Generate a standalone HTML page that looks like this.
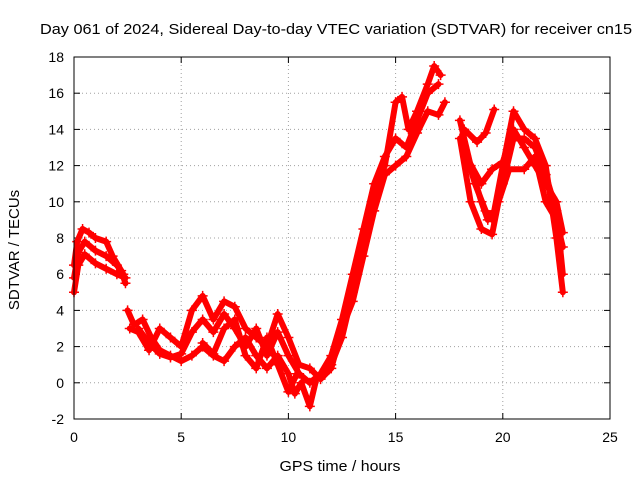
<!DOCTYPE html>
<html><head><meta charset="utf-8"><style>
body{margin:0;background:#fff}
svg{display:block;font-family:"Liberation Sans",sans-serif;font-size:14px}
</style></head><body>
<svg id="chart" width="640" height="480">
<text x="336" y="34" font-size="15" text-anchor="middle" textLength="592" lengthAdjust="spacingAndGlyphs">Day 061 of 2024, Sidereal Day-to-day VTEC variation (SDTVAR) for receiver cn15</text>
<text transform="translate(19,250) rotate(-90)" font-size="15" text-anchor="middle">SDTVAR / TECUs</text>
<text x="340" y="471" font-size="15" text-anchor="middle" textLength="121" lengthAdjust="spacingAndGlyphs">GPS time / hours</text>
<g id="grid"></g><g id="ticks"></g><g id="marks"></g>
<rect x="74" y="57" width="536" height="362" fill="none" stroke="#000"/>
</svg>
<script>
const xTicks=[0,5,10,15,20,25];
const yTicks=[-2,0,2,4,6,8,10,12,14,16,18];
const trackA=[[0,6.5],[0.15,7.8],[0.4,8.5],[0.7,8.3],[1,8],[1.5,7.8],[1.8,7],[2.2,6.2],[2.4,5.5]];
const trackB=[[0,5],[0.2,6.5],[0.5,7.1],[1,6.6],[1.5,6.3],[2,6],[2.4,5.8]];
const trackB2=[[0,5.8],[0.2,7.2],[0.5,7.8],[1,7.3],[1.5,7],[2,6.5],[2.3,6]];
const trackC=[[2.5,4],[2.8,3.2],[3.2,3.5],[3.6,2.5],[4,1.8],[4.5,1.5],[5,1.2],[5.5,1.5],[6,2],[6.5,1.5],[7,1.2],[7.5,2],[8,2.5],[8.5,1.5],[9,0.8],[9.5,1.5],[10,0.5],[10.3,-0.6],[10.6,0],[11,-1.3],[11.3,0.2],[11.7,0.5],[12,1],[12.5,2.5],[13,5],[13.5,7.5],[14,10.5],[14.5,12],[15,15.5],[15.3,15.8],[15.6,14],[16,15],[16.5,16.5],[16.8,17.5],[17.1,17]];
const trackD=[[2.6,3],[3,2.8],[3.5,1.8],[4,3],[4.5,2.5],[5,2],[5.5,4],[6,4.8],[6.5,3.5],[7,4.5],[7.5,4.2],[8,3],[8.5,2.5],[9,2],[9.5,3.8],[10,2.5],[10.5,1],[11,0.8],[11.5,0.2],[12,0.8],[12.5,3],[13,4.5],[13.5,7],[14,9.5],[14.5,11.5],[15,12],[15.5,12.5],[16,13.8],[16.5,15],[17,14.8],[17.3,15.5]];
const trackD2=[[3,3],[3.5,2.2],[4,1.6],[4.5,1.4],[5,1.6],[5.5,2.8],[6,3.5],[6.5,2.8],[7,3.8],[7.5,3],[8,2],[8.5,3],[9,1.5],[9.5,2.8],[10,1.5],[10.5,0.5],[11,0],[11.5,0.5],[12,1.5],[12.5,3.5],[13,6],[13.5,8.5],[14,11],[14.5,12.5],[15,13.5],[15.5,13],[16,14.5],[16.5,16],[17,16.5]];
const trackE=[[6,2.2],[6.5,1.6],[7,3],[7.5,3.5],[8,1.5],[8.5,0.8],[9,2.5],[9.5,1],[10,-0.5],[10.4,0.5]];
const trackF=[[18,14.5],[18.5,12],[19,10],[19.3,9],[19.6,9.5],[20,12],[20.5,15],[21,14],[21.5,13.5],[22,12],[22.5,8],[22.8,5]];
const trackG=[[18,13.5],[18.5,10],[19,8.5],[19.5,8.2],[19.8,10],[20.3,11.8],[21,11.8],[21.5,12.5],[22,10],[22.5,9],[22.8,7.5]];
const trackH=[[18.2,14],[18.8,13.3],[19.2,13.8],[19.6,15.1]];
const trackI=[[18.3,12.5],[19,11],[19.5,11.8],[20,12.2],[20.5,14],[21,13],[21.5,12],[22,11],[22.5,10],[22.8,8.3]];
const trackJ=[[18.2,13],[18.7,11],[19.2,9.5],[19.5,9],[20,11],[20.5,13.5],[21,13.5],[21.5,13],[22,11.5],[22.5,9.5],[22.8,6]];
const tracks=[trackA,trackB,trackB2,trackC,trackD,trackD2,trackE,trackF,trackG,trackH,trackI,trackJ];
const NS='http://www.w3.org/2000/svg';
const X=t=>74+t*536/25, Y=v=>419-(v+2)*362/20;
function mk(tag,at,parent){const e=document.createElementNS(NS,tag);for(const k in at)e.setAttribute(k,at[k]);parent.appendChild(e);return e;}
const grid=document.getElementById('grid'),ticks=document.getElementById('ticks'),marks=document.getElementById('marks');
xTicks.forEach(t=>{const x=X(t);
 if(t>0&&t<25){const l=mk('line',{x1:x,x2:x,y1:57,y2:419,stroke:'#a0a0a0','stroke-dasharray':'1,3'},grid);}
 mk('line',{x1:x,x2:x,y1:419,y2:413,stroke:'#000'},ticks);mk('line',{x1:x,x2:x,y1:57,y2:63,stroke:'#000'},ticks);
 const tx=mk('text',{x:x,y:442,'text-anchor':'middle'},ticks);tx.textContent=t;
 });
yTicks.forEach(v=>{const y=Y(v);
 if(v>-2&&v<18){const l=mk('line',{x1:74,x2:610,y1:y,y2:y,stroke:'#a0a0a0','stroke-dasharray':'1,3'},grid);}
 mk('line',{x1:74,x2:80,y1:y,y2:y,stroke:'#000'},ticks);mk('line',{x1:604,x2:610,y1:y,y2:y,stroke:'#000'},ticks);
 const tx=mk('text',{x:64,y:y+5,'text-anchor':'end'},ticks);tx.textContent=v;
 });
tracks.forEach(tr=>{
 const p=mk('polyline',{points:tr.map(d=>X(d[0])+','+Y(d[1])).join(' '),fill:'none',stroke:'#f00','stroke-width':6,'stroke-linejoin':'round','stroke-linecap':'round'},marks);
 
 tr.forEach(d=>{const x=X(d[0]),y=Y(d[1]);
  const m=mk('path',{d:`M${x-5},${y}H${x+5}M${x},${y-5}V${y+5}`,stroke:'#f00','stroke-width':1.5},marks);
  });
});
</script>
</body></html>
